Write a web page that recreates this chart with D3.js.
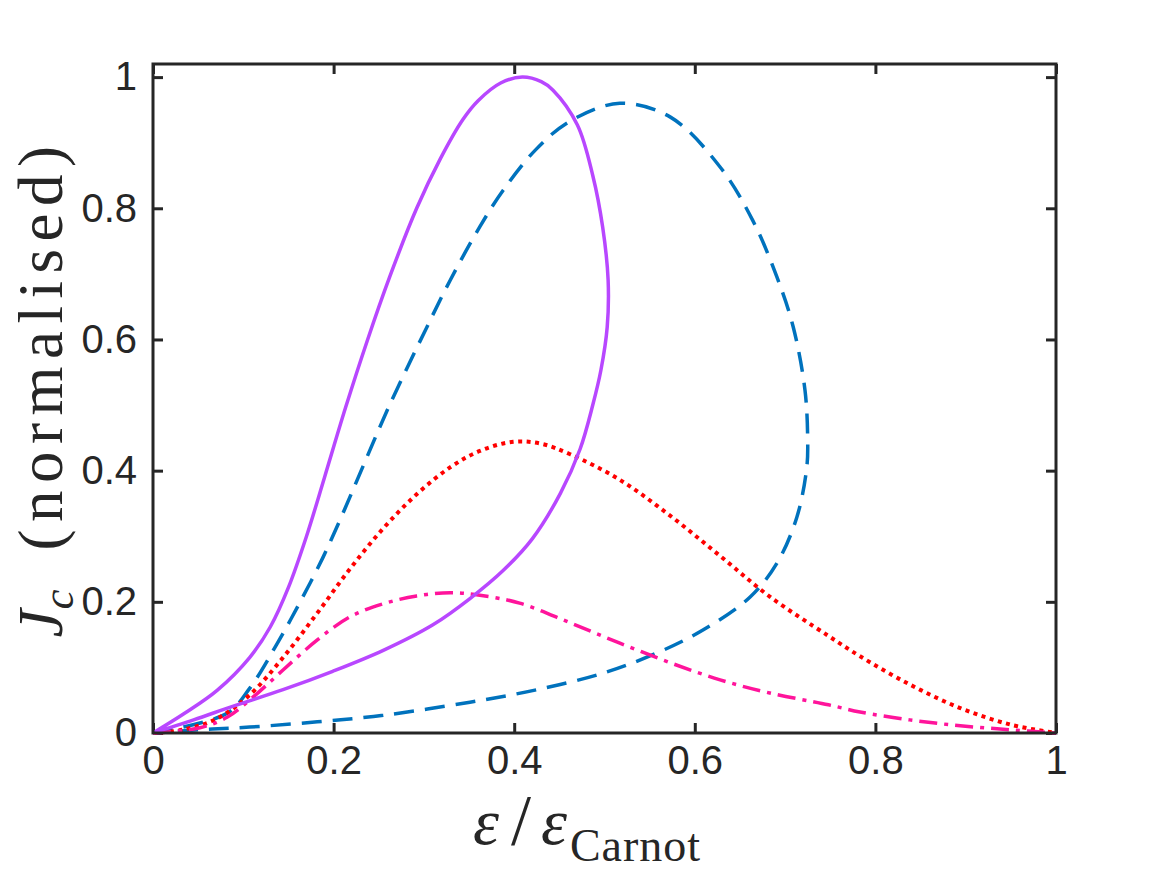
<!DOCTYPE html>
<html>
<head>
<meta charset="utf-8">
<script src="https://cdn.jsdelivr.net/npm/d3@7"></script>
<style>
  body { margin: 0; background: #fff; }
  .axis text { font-family: "Liberation Sans", Arial, sans-serif; font-size: 40px; fill: #262626; }
  .axis line { stroke: #262626; stroke-width: 3; }
  .label { font-family: "Liberation Serif", "DejaVu Serif", serif; fill: #262626; }
</style>
</head>
<body>
<script>
const width = 1167;
const height = 875;
const margin = { left: 153, top: 64, right: 111, bottom: 142 };

// solid purple loop
const purpleCurve = [
  [0, 0], [0.035, 0.03], [0.071, 0.065], [0.107, 0.115], [0.13, 0.162], [0.15, 0.222],
  [0.17, 0.3], [0.19, 0.39], [0.213, 0.495], [0.237, 0.597], [0.262, 0.695], [0.292, 0.8],
  [0.318, 0.875], [0.343, 0.935], [0.36, 0.964], [0.385, 0.991], [0.409, 1.0], [0.43, 0.993],
  [0.443, 0.98], [0.470, 0.927], [0.487, 0.85], [0.498, 0.771], [0.504, 0.691], [0.503, 0.619],
  [0.496, 0.553], [0.487, 0.5], [0.473, 0.433], [0.451, 0.365], [0.42, 0.296], [0.388, 0.248],
  [0.351, 0.205], [0.31, 0.165], [0.255, 0.126], [0.199, 0.094], [0.144, 0.066], [0.089, 0.041],
  [0.045, 0.02], [0, 0]
];

// dashed blue loop
const blueCurve = [
  [0, 0], [0.082, 0.030], [0.107, 0.068], [0.137, 0.135], [0.163, 0.2], [0.188, 0.267],
  [0.210, 0.334], [0.233, 0.408], [0.262, 0.5], [0.303, 0.618], [0.329, 0.69], [0.362, 0.772],
  [0.388, 0.828], [0.425, 0.891], [0.462, 0.933], [0.517, 0.960], [0.573, 0.939], [0.628, 0.863],
  [0.664, 0.782], [0.691, 0.695], [0.709, 0.619], [0.722, 0.523], [0.725, 0.447], [0.724, 0.405],
  [0.713, 0.329], [0.691, 0.259], [0.661, 0.207], [0.609, 0.157], [0.558, 0.122], [0.498, 0.091],
  [0.425, 0.066], [0.351, 0.047], [0.255, 0.027], [0.182, 0.017], [0.107, 0.009], [0.052, 0.005], [0, 0]
];

// dotted red
const redCurve = [
  [0, 0], [0.033, 0.005], [0.071, 0.022], [0.107, 0.058], [0.144, 0.115], [0.182, 0.183],
  [0.218, 0.25], [0.255, 0.312], [0.292, 0.364], [0.329, 0.405], [0.362, 0.43], [0.399, 0.444],
  [0.43, 0.441], [0.462, 0.425], [0.517, 0.386], [0.573, 0.331], [0.628, 0.27], [0.683, 0.208],
  [0.748, 0.148], [0.783, 0.117], [0.838, 0.074], [0.894, 0.038], [0.949, 0.013], [1, 0]
];

// dash-dot pink
const pinkCurve = [
  [0, 0], [0.052, 0.008], [0.082, 0.024], [0.111, 0.055], [0.144, 0.096], [0.182, 0.142],
  [0.218, 0.177], [0.255, 0.197], [0.292, 0.209], [0.329, 0.214], [0.362, 0.210], [0.406, 0.198],
  [0.462, 0.168], [0.517, 0.137], [0.573, 0.107], [0.628, 0.081], [0.683, 0.061], [0.748, 0.043],
  [0.783, 0.032], [0.838, 0.020], [0.894, 0.011], [0.949, 0.005], [1, 0]
];

const xTicks = [0, 0.2, 0.4, 0.6, 0.8, 1];
const yTicks = [0, 0.2, 0.4, 0.6, 0.8, 1];

const svg = d3.select('body').append('svg')
  .attr('width', width)
  .attr('height', height);

const innerW = width - margin.left - margin.right;
const innerH = height - margin.top - margin.bottom;

const xScale = d3.scaleLinear().domain([0, 1]).range([margin.left, margin.left + innerW]);
const yScale = d3.scaleLinear().domain([0, 1.02]).range([margin.top + innerH, margin.top]);

const fmt = (d) => String(d);

// axes, ticks pointing inward on all four sides
svg.append('g')
  .attr('class', 'axis')
  .attr('transform', `translate(0, ${yScale(0)})`)
  .call(d3.axisBottom(xScale).tickValues(xTicks).tickFormat(fmt).tickSize(-10).tickPadding(13))
  .call((g) => g.select('.domain').remove());

svg.append('g')
  .attr('class', 'axis')
  .attr('transform', `translate(0, ${yScale(1.02)})`)
  .call(d3.axisTop(xScale).tickValues(xTicks).tickFormat('').tickSize(-10))
  .call((g) => g.select('.domain').remove());

svg.append('g')
  .attr('class', 'axis')
  .attr('transform', `translate(${xScale(0)}, 0)`)
  .call(d3.axisLeft(yScale).tickValues(yTicks).tickFormat(fmt).tickSize(-10).tickPadding(16))
  .call((g) => g.select('.domain').remove());

svg.append('g')
  .attr('class', 'axis')
  .attr('transform', `translate(${xScale(1)}, 0)`)
  .call(d3.axisRight(yScale).tickValues(yTicks).tickFormat('').tickSize(-10))
  .call((g) => g.select('.domain').remove());

const line = d3.line()
  .x((d) => xScale(d[0]))
  .y((d) => yScale(d[1]))
  .curve(d3.curveCatmullRom.alpha(0.5));

const plot = svg.append('g');

plot.append('path').datum(blueCurve)
  .attr('d', line).attr('fill', 'none')
  .attr('stroke', '#0072BD').attr('stroke-width', 3.5)
  .attr('stroke-dasharray', '20,11');

plot.append('path').datum(redCurve)
  .attr('d', line).attr('fill', 'none')
  .attr('stroke', '#FF0000').attr('stroke-width', 4)
  .attr('stroke-dasharray', '4,4.5');

plot.append('path').datum(pinkCurve)
  .attr('d', line).attr('fill', 'none')
  .attr('stroke', '#FF149B').attr('stroke-width', 3.5)
  .attr('stroke-dasharray', '18,7,4,7');

plot.append('path').datum(purpleCurve)
  .attr('d', line).attr('fill', 'none')
  .attr('stroke', '#B847FF').attr('stroke-width', 3.5);

// box
svg.append('rect')
  .attr('x', xScale(0)).attr('y', yScale(1.02))
  .attr('width', xScale(1) - xScale(0))
  .attr('height', yScale(0) - yScale(1.02))
  .attr('fill', 'none')
  .attr('stroke', '#262626')
  .attr('stroke-width', 3);

// x label
const xl = svg.append('text')
  .attr('class', 'label')
  .attr('x', 587)
  .attr('y', 844)
  .attr('text-anchor', 'middle')
  .attr('font-size', 66);
xl.append('tspan').attr('font-style', 'italic').text('ε');
xl.append('tspan').attr('dx', 12).attr('font-size', 72).text('/');
xl.append('tspan').attr('dx', 10).attr('font-style', 'italic').text('ε');
xl.append('tspan').attr('font-size', 46).attr('dx', 3).attr('dy', 17).attr('letter-spacing', 1).text('Carnot');

// y label
const yl = svg.append('text')
  .attr('class', 'label')
  .attr('transform', `translate(62, 388) rotate(-90)`)
  .attr('text-anchor', 'middle')
  .attr('font-size', 63);
yl.append('tspan').attr('font-style', 'italic').text('J');
yl.append('tspan').attr('font-style', 'italic').attr('font-size', 45).attr('dy', 11).text('c');
yl.append('tspan').attr('dy', -11).attr('letter-spacing', 7.5).text('\u2002(normalised)');
</script>
</body>
</html>
